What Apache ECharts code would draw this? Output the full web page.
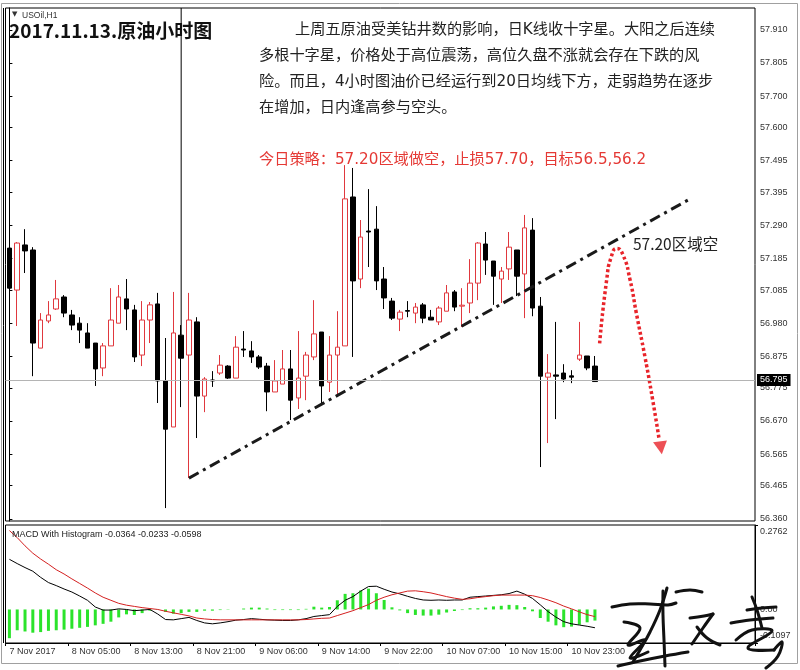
<!DOCTYPE html>
<html><head><meta charset="utf-8">
<script src="https://cdn.jsdelivr.net/npm/echarts@6/dist/echarts.min.js"></script>
<style>html,body{margin:0;padding:0;background:#fff}#c{width:800px;height:670px}</style>
</head><body><div id="c"></div>
<script>
// ---------------- DATA ----------------
const barTimes = [
'7 Nov 20:00','7 Nov 21:00','7 Nov 22:00','7 Nov 23:00',
'8 Nov 01:00','8 Nov 02:00','8 Nov 03:00','8 Nov 04:00','8 Nov 05:00','8 Nov 06:00','8 Nov 07:00','8 Nov 08:00','8 Nov 09:00','8 Nov 10:00','8 Nov 11:00','8 Nov 12:00','8 Nov 13:00','8 Nov 14:00','8 Nov 15:00','8 Nov 16:00','8 Nov 17:00','8 Nov 18:00','8 Nov 19:00','8 Nov 20:00','8 Nov 21:00','8 Nov 22:00','8 Nov 23:00',
'9 Nov 01:00','9 Nov 02:00','9 Nov 03:00','9 Nov 04:00','9 Nov 05:00','9 Nov 06:00','9 Nov 07:00','9 Nov 08:00','9 Nov 09:00','9 Nov 10:00','9 Nov 11:00','9 Nov 12:00','9 Nov 13:00','9 Nov 14:00','9 Nov 15:00','9 Nov 16:00','9 Nov 17:00','9 Nov 18:00','9 Nov 19:00','9 Nov 20:00','9 Nov 21:00','9 Nov 22:00','9 Nov 23:00',
'10 Nov 01:00','10 Nov 02:00','10 Nov 03:00','10 Nov 04:00','10 Nov 05:00','10 Nov 06:00','10 Nov 07:00','10 Nov 08:00','10 Nov 09:00','10 Nov 10:00','10 Nov 11:00','10 Nov 12:00','10 Nov 13:00','10 Nov 14:00','10 Nov 15:00','10 Nov 16:00','10 Nov 17:00','10 Nov 18:00','10 Nov 19:00','10 Nov 20:00','10 Nov 21:00','10 Nov 22:00','10 Nov 23:00',
'13 Nov 01:00','13 Nov 02:00','13 Nov 03:00'];

const openP = [57.218,57.085,57.228,57.212,56.901,56.987,57.025,57.063,57.006,56.980,
56.949,56.917,56.838,56.908,56.980,57.057,57.022,56.879,56.990,57.041,
56.797,56.651,56.942,56.879,56.984,56.749,56.800,56.822,56.844,56.806,
56.898,56.892,56.873,56.844,56.762,56.787,56.835,56.743,56.812,56.873,
56.952,56.793,56.879,56.908,57.380,57.120,57.272,57.278,57.120,57.050,
56.993,57.020,57.012,57.038,56.999,56.984,57.018,57.079,57.034,57.044,
57.107,57.231,57.177,57.120,57.152,57.212,57.136,57.275,57.034,56.809,
56.816,56.822,56.813,56.866,56.876,56.844];
const closeP = [57.091,57.234,57.209,56.917,56.990,57.006,57.057,57.012,56.974,56.958,
56.901,56.835,56.908,56.990,57.063,57.025,56.873,56.990,57.038,56.797,
56.644,56.949,56.869,56.990,56.749,56.803,56.797,56.847,56.806,56.904,
56.895,56.873,56.841,56.762,56.797,56.835,56.736,56.806,56.879,56.946,
56.781,56.879,56.904,57.374,57.114,57.253,57.269,57.114,57.060,56.996,
57.015,57.018,57.031,56.996,56.990,57.028,57.076,57.031,57.037,57.107,
57.234,57.180,57.129,57.145,57.221,57.129,57.282,57.028,56.812,56.822,
56.812,56.803,56.809,56.879,56.838,56.795];
const highP = [57.253,57.237,57.278,57.221,57.012,57.050,57.117,57.069,57.022,56.999,
56.980,56.917,56.917,57.091,57.101,57.120,57.038,57.050,57.047,57.076,
56.933,57.079,56.974,57.076,56.999,56.809,56.828,56.879,56.847,56.939,
56.955,56.923,56.879,56.854,56.863,56.895,56.895,56.955,56.889,57.053,
56.952,56.939,57.018,57.481,57.472,57.307,57.405,57.351,57.158,57.060,
57.022,57.050,57.044,57.044,57.022,57.034,57.101,57.085,57.091,57.183,
57.237,57.269,57.177,57.158,57.269,57.212,57.323,57.313,57.063,56.882,
56.984,56.850,56.831,56.984,56.876,56.876];
const lowP = [57.076,56.971,57.139,56.812,56.901,56.980,57.022,56.999,56.958,56.917,
56.901,56.781,56.812,56.908,56.980,56.958,56.857,56.844,56.917,56.727,
56.394,56.651,56.714,56.489,56.616,56.698,56.778,56.816,56.803,56.806,
56.873,56.854,56.835,56.701,56.762,56.787,56.673,56.708,56.736,56.863,
56.727,56.762,56.746,56.908,56.873,57.091,57.158,57.085,57.025,56.990,
56.955,56.999,56.980,56.980,56.990,56.974,57.018,57.018,56.968,57.012,
57.053,57.133,57.038,57.044,57.117,57.066,56.996,57.002,56.524,56.600,
56.676,56.793,56.790,56.860,56.831,56.795];

const macdLine = [0.164,0.150,0.137,0.125,0.105,0.088,0.078,0.067,0.057,0.044,
0.030,0.008,-0.002,-0.002,0.002,0.000,-0.004,-0.002,0.000,-0.015,
-0.033,-0.034,-0.030,-0.026,-0.036,-0.044,-0.047,-0.044,-0.040,-0.035,
-0.033,-0.030,-0.032,-0.034,-0.035,-0.036,-0.036,-0.034,-0.030,-0.023,
-0.020,-0.017,0.010,0.030,0.042,0.060,0.075,0.076,0.066,0.057,
0.051,0.043,0.036,0.031,0.030,0.031,0.030,0.031,0.031,0.040,
0.042,0.044,0.046,0.048,0.052,0.060,0.050,0.036,0.015,-0.007,
-0.025,-0.040,-0.047,-0.051,-0.055,-0.0598];
const signalLine = [0.258,0.235,0.208,0.184,0.165,0.148,0.130,0.116,0.100,0.085,
0.070,0.054,0.040,0.030,0.020,0.014,0.010,0.006,0.003,0.000,
-0.006,-0.011,-0.016,-0.021,-0.028,-0.031,-0.033,-0.034,-0.034,-0.034,
-0.034,-0.034,-0.034,-0.034,-0.034,-0.034,-0.034,-0.034,-0.033,-0.031,
-0.029,-0.028,-0.020,-0.012,-0.004,0.006,0.016,0.030,0.040,0.048,
0.054,0.060,0.061,0.058,0.054,0.048,0.042,0.037,0.033,0.035,
0.039,0.042,0.045,0.047,0.047,0.047,0.047,0.045,0.039,0.031,
0.022,0.011,0.002,-0.008,-0.017,-0.0233];
const histValues = [-0.094,-0.068,-0.072,-0.076,-0.074,-0.070,-0.068,-0.066,-0.063,-0.060,
-0.057,-0.052,-0.047,-0.040,-0.026,-0.016,-0.018,-0.012,-0.004,-0.001,
-0.008,-0.014,-0.012,-0.008,-0.008,-0.004,-0.004,-0.002,-0.001,0.000,
0.003,0.006,0.006,0.003,-0.002,-0.002,-0.002,-0.002,0.002,0.009,
0.006,0.008,0.030,0.051,0.053,0.062,0.068,0.053,0.031,0.007,
-0.003,-0.012,-0.018,-0.020,-0.020,-0.017,-0.010,-0.005,-0.002,0.004,
0.004,0.006,0.010,0.012,0.015,0.014,0.008,-0.006,-0.028,-0.040,
-0.052,-0.058,-0.056,-0.050,-0.042,-0.0364];

const priceTicks = [57.910,57.805,57.700,57.600,57.495,57.395,57.290,57.185,57.085,56.980,56.875,56.775,56.670,56.565,56.465,56.360];
const macdTicks = [0.2762, 0, -0.1097];
const macdTickText = ['0.2762','0.00','-0.1097'];
const xTickLabels = [[0,'7 Nov 2017'],[8,'8 Nov 05:00'],[16,'8 Nov 13:00'],[24,'8 Nov 21:00'],[32,'9 Nov 06:00'],[40,'9 Nov 14:00'],[48,'9 Nov 22:00'],[56,'10 Nov 07:00'],[64,'10 Nov 15:00'],[72,'10 Nov 23:00']];
const lastPrice = 56.795;
// drawn objects (bar index, price)
const trendLine = [[23, 56.489],[86.9, 57.370]];
const markerLine = [[22, 57.979],[22, 56.942]];
const arrowPath = [[75.6,56.916],[76.5,57.117],[77.1,57.191],[77.8,57.217],[78.6,57.196],[79.5,57.117],[80.3,57.012],[81.4,56.874],[82.4,56.736],[83.2,56.615]];
const arrowHead = [[83.45,56.585]];
const noteLines = ['上周五原油受美钻井数的影响，日K线收十字星。大阳之后连续','多根十字星，价格处于高位震荡，高位久盘不涨就会存在下跌的风','险。而且，4小时图油价已经运行到20日均线下方，走弱趋势在逐步','在增加，日内逢高参与空头。'];
const strategyText = '今日策略：57.20区域做空，止损57.70，目标56.5,56.2';
const zoneText = '57.20区域空';
const titleText = '2017.11.13.原油小时图';
const macdTitle = 'MACD With Histogram -0.0364 -0.0233 -0.0598';

// decorative handwritten signature strokes (pixel space, not data)
const signatureStrokes = [
  [[612,607],[630,604],[650,604],[668,605],[676,603]],
  [[667,588],[660,610],[650,632],[640,650],[633,662]],
  [[663,591],[663,615],[664,640],[665,666]],
  [[624,622],[640,628],[628,645],[645,640],[630,658],[648,652]],
  [[618,666],[640,661],[665,656],[688,652]],
  [[676,592],[690,590],[702,592]],
  [[690,618],[704,616],[713,614]],
  [[713,614],[703,628],[692,644]],
  [[697,627],[707,638],[720,645]],
  [[752,597],[757,610],[762,628]],
  [[747,610],[762,608],[776,607]],
  [[731,623],[750,620],[773,618]],
  [[736,640],[752,630],[772,631],[748,648],[774,650]],
  [[774,650],[782,642],[778,656],[766,668]]
];

// ---------------- CHART ----------------
const rightPadSlots = 20;
const slots = barTimes.length + rightPadSlots;
const axisCats = barTimes.concat(new Array(rightPadSlots).fill(''));
const tickMap = {}; xTickLabels.forEach(([i,t]) => tickMap[i] = t);
const candles = openP.map((o,i) => [o, closeP[i], lowP[i], highP[i]]);
const RED = '#e0383e';
const LBL = {fontFamily:'Liberation Sans', fontSize:9, color:'#333'};
const CJK = '"DejaVu Sans","Noto Sans CJK SC"';

const graphics = [
  {type:'rect', shape:{x:1.5, y:3.5, width:796, height:660}, style:{fill:'none', stroke:'#a0a0a0', lineWidth:1}, silent:true, z:-1},
  {type:'line', shape:{x1:3.5, y1:8, x2:3.5, y2:643}, style:{stroke:'#000', lineWidth:1}, silent:true},
  {type:'text', left:12, top:11, style:{text:'▼', font:'7px "DejaVu Sans"', fill:'#333'}, silent:true},
  {type:'text', left:22, top:11, style:{text:'USOil,H1', font:'8.5px "Liberation Sans"', fill:'#333'}, silent:true},
  {type:'text', left:9, top:21, style:{text:titleText, font:'bold 19px "Noto Sans CJK SC"', fill:'#111'}, z:10, silent:true},
  {type:'text', left:295, top:22, style:{text:noteLines[0], font:'15.2px '+CJK, fill:'#222'}, z:10, silent:true},
  {type:'text', left:259, top:48, style:{text:noteLines[1], font:'15.2px '+CJK, fill:'#222'}, z:10, silent:true},
  {type:'text', left:259, top:74, style:{text:noteLines[2], font:'15.2px '+CJK, fill:'#222'}, z:10, silent:true},
  {type:'text', left:259, top:100, style:{text:noteLines[3], font:'15.2px '+CJK, fill:'#222'}, z:10, silent:true},
  {type:'text', left:259, top:152, style:{text:strategyText, font:'15.2px '+CJK, fill:'#e53935'}, z:10, silent:true},
  {type:'text', left:633, top:236, style:{text:zoneText, font:'15.5px "Noto Sans CJK SC"', fill:'#222'}, z:10, silent:true},
  {type:'text', left:12, top:530, style:{text:macdTitle, font:'9px "Liberation Sans"', fill:'#222'}, z:10, silent:true}
];
signatureStrokes.forEach(pts => graphics.push({type:'polyline', shape:{points:pts, smooth:0.4}, style:{stroke:'#111', lineWidth:3, fill:'none', lineCap:'round', lineJoin:'round'}, z:20, silent:true}));

const chart = echarts.init(document.getElementById('c'), null, {renderer:'canvas'});
chart.setOption({
  animation:false,
  backgroundColor:'#fff',
  grid:[
    {left:5.5, right:45, top:8, height:513, show:true, borderColor:'#000', borderWidth:1, backgroundColor:'#fff'},
    {left:5.5, right:45, top:525, height:118, show:true, borderColor:'#000', borderWidth:1, backgroundColor:'#fff'}
  ],
  xAxis:[
    {type:'category', gridIndex:0, data:axisCats, boundaryGap:true, axisLine:{show:false}, axisTick:{show:false}, axisLabel:{show:false}, splitLine:{show:false}},
    {type:'value', gridIndex:0, min:-0.5, max:slots-0.5, show:false},
    {type:'category', gridIndex:1, data:axisCats, boundaryGap:true, position:'bottom',
      axisLine:{show:true, onZero:false, lineStyle:{color:'#000'}},
      axisTick:{show:true, length:3, interval:(i)=> tickMap[i]!==undefined, lineStyle:{color:'#000'}},
      axisLabel:Object.assign({show:true, interval:0, align:'left', margin:4, formatter:(v,i)=> tickMap[i]||''}, LBL),
      splitLine:{show:false}}
  ],
  yAxis:[
    {type:'value', gridIndex:0, position:'right', min:56.353, max:57.979, scale:true,
      axisLine:{show:true, lineStyle:{color:'#000'}}, splitLine:{show:false},
      axisTick:{show:true, length:3, customValues:priceTicks, lineStyle:{color:'#000'}},
      axisLabel:Object.assign({show:true, margin:5, customValues:priceTicks, formatter:(v)=> v.toFixed(3)}, LBL)},
    {type:'value', gridIndex:1, position:'right', min:-0.1097, max:0.2762,
      axisLine:{show:true, lineStyle:{color:'#000'}}, splitLine:{show:false},
      axisTick:{show:true, length:3, customValues:macdTicks, lineStyle:{color:'#000'}},
      axisLabel:Object.assign({show:true, margin:5, customValues:macdTicks,
        formatter:(v)=>{const k = macdTicks.findIndex(t=>Math.abs(t-v)<1e-6); if(k<0) return ''; const key = k===0?'t':(k===2?'b':'m'); return '{'+key+'|'+macdTickText[k]+'}';},
        rich:{t:Object.assign({padding:[14,0,0,0]}, LBL), b:Object.assign({padding:[0,0,14,0]}, LBL), m:Object.assign({}, LBL)}}, LBL)}
  ],
  series:[
    {type:'candlestick', xAxisIndex:0, yAxisIndex:0, data:candles, barWidth:5,
      itemStyle:{color:'#fff', color0:'#000', borderColor:RED, borderColor0:'#000', borderWidth:1},
      markLine:{silent:true, symbol:['none','none'], animation:false,
        lineStyle:{color:'#b4b4b4', width:1, type:'solid'},
        label:{show:true, position:'end', distance:2, formatter:lastPrice.toFixed(3), backgroundColor:'#000', color:'#fff', padding:[2,3,1,3], fontFamily:'Liberation Sans', fontSize:9},
        emphasis:{disabled:true},
        data:[{yAxis:lastPrice}]}, z:3},
    {type:'line', xAxisIndex:1, yAxisIndex:0, data:markerLine, symbol:'none', lineStyle:{color:'#000', width:1}, z:2, silent:true},
    {type:'line', xAxisIndex:1, yAxisIndex:0, data:trendLine, symbol:'none', lineStyle:{color:'#1a1a1a', width:3, type:[11,5,3,5]}, z:4, silent:true},
    {type:'line', xAxisIndex:1, yAxisIndex:0, data:arrowPath, smooth:0.6, symbol:'none', lineStyle:{color:'#e8242a', width:3.5, type:[3,2.5]}, z:4, silent:true},
    {type:'scatter', xAxisIndex:1, yAxisIndex:0, data:arrowHead, symbol:'triangle', symbolSize:[14,13], symbolRotate:188, itemStyle:{color:'#e8242a'}, z:5, silent:true},
    {type:'bar', xAxisIndex:2, yAxisIndex:1, data:histValues, barWidth:3, itemStyle:{color:'#2be32b'}, silent:true},
    {type:'line', xAxisIndex:2, yAxisIndex:1, data:macdLine, symbol:'none', lineStyle:{color:'#000', width:1}, silent:true},
    {type:'line', xAxisIndex:2, yAxisIndex:1, data:signalLine, symbol:'none', lineStyle:{color:'#d42020', width:1}, silent:true}
  ],
  graphic:graphics
});
</script></body></html>
